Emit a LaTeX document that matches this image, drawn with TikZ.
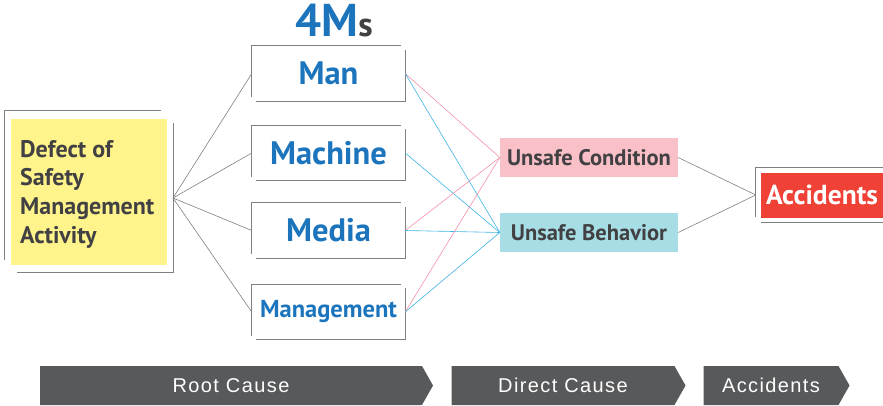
\documentclass[tikz,border=0pt]{standalone}
\usepackage{fontspec}
\setmainfont{PT Sans}
\newfontfamily\bandfont[LetterSpace=7]{Liberation Sans}
\usetikzlibrary{calc,shapes.symbols}

\definecolor{mblue}{HTML}{1C75BC}
\definecolor{mdark}{HTML}{414042}
\definecolor{myellow}{HTML}{FFF38C}
\definecolor{mpink}{HTML}{F9C0C8}
\definecolor{mcyan}{HTML}{A7DDE5}
\definecolor{mred}{HTML}{EF4136}
\definecolor{lpink}{HTML}{F291A8}
\definecolor{lblue}{HTML}{3DB3E4}
\definecolor{mframe}{HTML}{808080}
\definecolor{mband}{HTML}{58595B}

\tikzset{
  frame/.style={draw=mframe, line width=0.9pt},
  mbox/.style={minimum width=153pt, minimum height=55pt, inner sep=0pt,
    text=mblue, font=\bfseries\fontsize{32.5}{34}\selectfont},
  link/.style={draw=mframe, line width=0.6pt},
  plink/.style={draw=lpink, line width=0.6pt},
  blink/.style={draw=lblue, line width=0.6pt},
  cause/.style={minimum width=178pt, minimum height=39pt, inner sep=0pt,
    text=mdark, font=\bfseries\fontsize{22.5}{24}\selectfont},
  band/.style={shape=signal, signal to=east, signal pointer angle=121,
    fill=mband, text=white, inner sep=0pt, minimum height=39pt,
    font=\bandfont\fontsize{20}{22}\selectfont}
}

% offset bracket frame: an upper-left L and a shifted lower-right L
\newcommand\bracketframe[2]{%
  \draw[frame] ($(#1.south west)+(0,-#2)$) |- ($(#1.north east)+(-#2,0)$);
  \draw[frame] ($(#1.north east)+(0,#2)$) |- ($(#1.south west)+(#2,0)$);}

\begin{document}
\begin{tikzpicture}[x=1pt,y=-1pt]
\useasboundingbox (0,0) rectangle (883,406);

% root box
\node[minimum width=168pt, minimum height=161pt, inner sep=0pt] (def) at (89,191.5) {};
\fill[myellow] (11,119) rectangle (167,265);
\bracketframe{def}{12}
\node[anchor=west, align=left, text=mdark, inner sep=0pt,
      font=\bfseries\fontsize{24}{28.7}\selectfont] (deftext) at (20,194)
  {Defect of\\Safety\\Management\\Activity};
\coordinate (defout) at (173,198);

% the four Ms
\node[text=mblue, font=\bfseries\fontsize{46}{48}\selectfont, inner sep=0pt, anchor=base]
  (title) at (334,37) {4M\textcolor{mdark}{\fontsize{34}{36}\selectfont s}};
\node[mbox] (man) at (328.5,73.5) {Man};
\node[mbox] (machine) at (328.5,153) {Machine};
\node[mbox] (media) at (328.5,230.5) {Media};
\node[mbox, font=\bfseries\fontsize{24.5}{26}\selectfont] (mgmt) at (328.5,312) {Management};
\foreach \n in {man,machine,media,mgmt} {\bracketframe{\n}{4}}

% direct causes
\node[cause, fill=mpink] (uc) at (589,157.5) {Unsafe Condition};
\node[cause, fill=mcyan] (ub) at (589,232.5) {Unsafe Behavior};

% accidents
\node[minimum width=132pt, minimum height=54pt, inner sep=0pt] (accf) at (822,195) {};
\fill[mred] (761,173) rectangle (890,218);
\bracketframe{accf}{5}
\node[text=white, font=\bfseries\fontsize{27.5}{30}\selectfont, inner sep=0pt] (acc) at (822,195) {Accidents};

% connectors
\foreach \n in {man,machine,media,mgmt} {\draw[link] (defout) -- (\n.west);}
\draw[plink] (man.east) -- (uc.west);
\draw[blink] (man.east) -- (ub.west);
\draw[blink] (machine.east) -- (ub.west);
\draw[plink] (media.east) -- (uc.west);
\draw[blink] (media.east) -- (ub.west);
\draw[plink] (mgmt.east) -- (uc.west);
\draw[blink] (mgmt.east) -- (ub.west);
\draw[link] (uc.east) -- (accf.west);
\draw[link] (ub.east) -- (accf.west);

% stage bands
\node[band, minimum width=393pt] (root) at (231,385.5) {Root Cause};
\node[band, minimum width=234pt] (direct) at (563,385.5) {Direct Cause};
\node[band, minimum width=146pt] (stage) at (771,385.5) {Accidents};
\end{tikzpicture}
\end{document}
